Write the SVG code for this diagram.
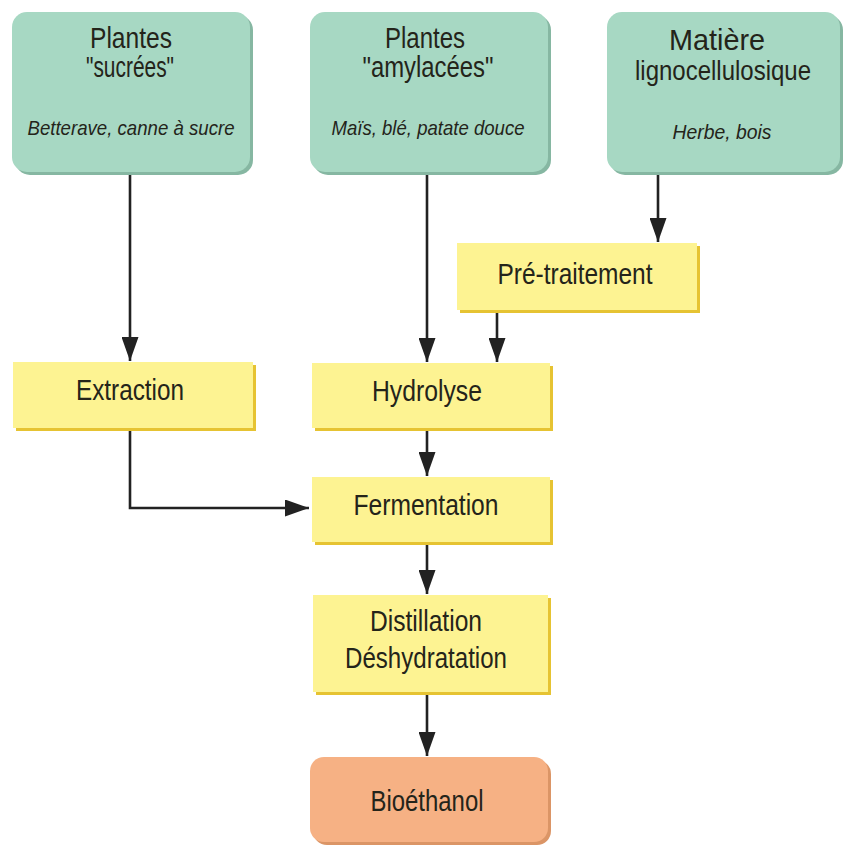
<svg xmlns="http://www.w3.org/2000/svg" width="844" height="848" viewBox="0 0 844 848">
  <style>
    text { font-family: "Liberation Sans", Arial, sans-serif; fill: #24241a; text-anchor: middle; }
    .t { font-size: 29px; }
    .it { font-size: 21px; font-style: italic; }
    .green { fill: #a7d8c3; }
    .green-sh { fill: #86b7a2; }
    .yellow { fill: #fdf392; }
    .yellow-sh { fill: #e6c332; }
    .orange { fill: #f6b184; }
    .orange-sh { fill: #db9566; }
    .conn { fill: none; stroke: #222; stroke-width: 2.6; }
  </style>
  <defs>
    <marker id="arrow" markerUnits="userSpaceOnUse" markerWidth="24" markerHeight="17" refX="24" refY="8.5" orient="auto" viewBox="0 0 24 17">
      <path d="M0,0 L24,8.5 L0,17 Z" fill="#222"/>
    </marker>
  </defs>
  <rect width="844" height="848" fill="#ffffff"/>

  <!-- feedstocks -->
  <g id="sucrees">
    <rect class="green-sh" x="15" y="15" width="238" height="160" rx="15"/>
    <rect class="green" x="12" y="12" width="238" height="160" rx="15"/>
    <text class="t" x="131" y="48" textLength="82" lengthAdjust="spacingAndGlyphs">Plantes</text>
    <text class="t" x="130" y="77" textLength="88" lengthAdjust="spacingAndGlyphs">"sucrées"</text>
    <text class="it" x="131" y="135" textLength="207" lengthAdjust="spacingAndGlyphs">Betterave, canne à sucre</text>
  </g>
  <g id="amylacees">
    <rect class="green-sh" x="313" y="15" width="238" height="160" rx="15"/>
    <rect class="green" x="310" y="12" width="238" height="160" rx="15"/>
    <text class="t" x="425" y="48" textLength="80" lengthAdjust="spacingAndGlyphs">Plantes</text>
    <text class="t" x="428" y="77" textLength="131" lengthAdjust="spacingAndGlyphs">"amylacées"</text>
    <text class="it" x="428" y="135" textLength="193" lengthAdjust="spacingAndGlyphs">Maïs, blé, patate douce</text>
  </g>
  <g id="ligno">
    <rect class="green-sh" x="610" y="15" width="233" height="160" rx="15"/>
    <rect class="green" x="607" y="12" width="233" height="160" rx="15"/>
    <text class="t" x="717" y="50" textLength="96" lengthAdjust="spacingAndGlyphs">Matière</text>
    <text x="723" y="80" font-size="27" textLength="176" lengthAdjust="spacingAndGlyphs">lignocellulosique</text>
    <text class="it" x="722" y="139" textLength="99" lengthAdjust="spacingAndGlyphs">Herbe, bois</text>
  </g>

  <!-- process steps -->
  <g id="pretraitement">
    <rect class="yellow-sh" x="460" y="246" width="240" height="67"/>
    <rect class="yellow" x="457" y="243" width="240" height="67"/>
    <text class="t" x="575" y="284" textLength="155" lengthAdjust="spacingAndGlyphs">Pré-traitement</text>
  </g>
  <g id="extraction">
    <rect class="yellow-sh" x="16" y="365" width="240" height="66"/>
    <rect class="yellow" x="13" y="362" width="240" height="66"/>
    <text class="t" x="130" y="400" textLength="108" lengthAdjust="spacingAndGlyphs">Extraction</text>
  </g>
  <g id="hydrolyse">
    <rect class="yellow-sh" x="315" y="366" width="238" height="65"/>
    <rect class="yellow" x="312" y="363" width="238" height="65"/>
    <text class="t" x="427" y="401" textLength="110" lengthAdjust="spacingAndGlyphs">Hydrolyse</text>
  </g>
  <g id="fermentation">
    <rect class="yellow-sh" x="315" y="480" width="238" height="65"/>
    <rect class="yellow" x="312" y="477" width="238" height="65"/>
    <text class="t" x="426" y="515" textLength="145" lengthAdjust="spacingAndGlyphs">Fermentation</text>
  </g>
  <g id="distillation">
    <rect class="yellow-sh" x="316" y="598" width="235" height="97"/>
    <rect class="yellow" x="313" y="595" width="235" height="97"/>
    <text class="t" x="426" y="631" textLength="112" lengthAdjust="spacingAndGlyphs">Distillation</text>
    <text class="t" x="426" y="668" textLength="162" lengthAdjust="spacingAndGlyphs">Déshydratation</text>
  </g>
  <g id="bioethanol">
    <rect class="orange-sh" x="313" y="760" width="238" height="85" rx="14"/>
    <rect class="orange" x="310" y="757" width="238" height="85" rx="14"/>
    <text class="t" x="427" y="811" textLength="113" lengthAdjust="spacingAndGlyphs">Bioéthanol</text>
  </g>

  <!-- connectors -->
  <g id="connectors">
    <path class="conn" d="M130,175 L130,361" marker-end="url(#arrow)"/>
    <path class="conn" d="M427,175 L427,362" marker-end="url(#arrow)"/>
    <path class="conn" d="M658,175 L658,242" marker-end="url(#arrow)"/>
    <path class="conn" d="M497,313 L497,362" marker-end="url(#arrow)"/>
    <path class="conn" d="M427,431 L427,476" marker-end="url(#arrow)"/>
    <path class="conn" d="M130,431 L130,508 L309,508" marker-end="url(#arrow)"/>
    <path class="conn" d="M427,545 L427,594" marker-end="url(#arrow)"/>
    <path class="conn" d="M427,695 L427,756" marker-end="url(#arrow)"/>
  </g>
</svg>
